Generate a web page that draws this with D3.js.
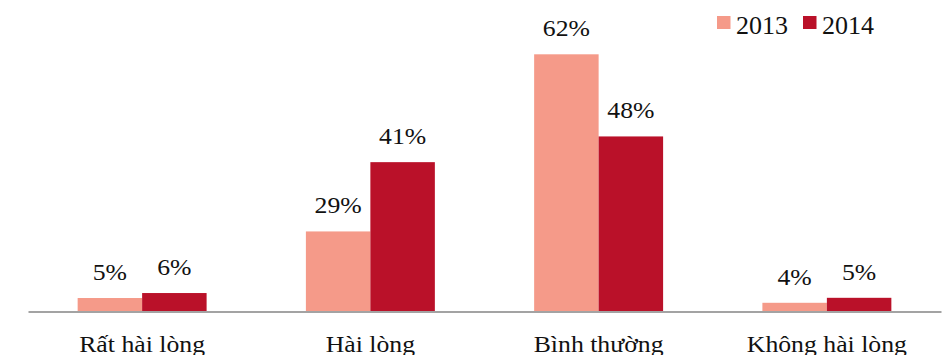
<!DOCTYPE html>
<html>
<head>
<meta charset="utf-8">
<script src="https://cdn.jsdelivr.net/npm/d3@7"></script>
<style>
  html, body { margin: 0; padding: 0; background: #fff; }
  svg { display: block; }
  text { font-family: "Liberation Serif", "Times New Roman", serif; fill: #111; }
</style>
</head>
<body>
<svg id="chart" width="950" height="355"></svg>
<script>
// Categories and series
const categories = ["Rất hài lòng", "Hài lòng", "Bình thường", "Không hài lòng"];
const seriesNames = ["2013", "2014"];
// Bar heights as drawn in the picture (percent units)
const values2013 = [3.25, 19.3, 62, 2.1];
const values2014 = [4.45, 36.0, 42.2, 3.3];
// Data labels as printed
const labels2013 = ["5%", "29%", "62%", "4%"];
const labels2014 = ["6%", "41%", "48%", "5%"];
const colors = ["#F59A89", "#BA1129"];

const svg = d3.select("#chart");
const baseY = 311.5, topY = 54.3;

const x0 = d3.scaleBand().domain(categories).range([28, 941]).paddingInner(0.435).paddingOuter(0.2175);
const x1 = d3.scaleBand().domain(seriesNames).range([0, x0.bandwidth()]);
const y = d3.scaleLinear().domain([0, 62]).range([baseY, topY]);
const color = d3.scaleOrdinal().domain(seriesNames).range(colors);

const rows = categories.map((c, i) => ({
  cat: c,
  items: [
    { s: "2013", v: values2013[i], l: labels2013[i] },
    { s: "2014", v: values2014[i], l: labels2014[i] }
  ]
}));

const g = svg.selectAll("g.grp").data(rows).join("g")
  .attr("class", "grp")
  .attr("transform", d => `translate(${x0(d.cat)},0)`);

g.selectAll("rect").data(d => d.items).join("rect")
  .attr("x", d => x1(d.s))
  .attr("width", x1.bandwidth())
  .attr("y", d => y(d.v))
  .attr("height", d => baseY - y(d.v))
  .attr("fill", d => color(d.s));

g.selectAll("text.lbl").data(d => d.items).join("text")
  .attr("class", "lbl")
  .attr("text-anchor", "middle")
  .attr("font-size", 23)
  .attr("transform", d => `translate(${x1(d.s) + x1.bandwidth() / 2},${y(d.v) - 18}) scale(1.12,1)`)
  .text(d => d.l);

// Axis line
const xAxis = d3.axisBottom(x0).tickSize(0).tickSizeOuter(0).tickPadding(0);
const ax = svg.append("g").attr("transform", `translate(0,${baseY})`).call(xAxis);
ax.select(".domain").attr("stroke", "#A3A3A3").attr("stroke-width", 2);
ax.selectAll(".tick text").remove();

// Category labels
svg.selectAll("text.cat").data(categories).join("text")
  .attr("class", "cat")
  .attr("text-anchor", "middle")
  .attr("font-size", 23)
  .attr("transform", d => `translate(${x0(d) + x0.bandwidth() / 2},352) scale(1.12,1)`)
  .text(d => d);

// Legend
const legendX = [717, 803];
const lg = svg.selectAll("g.leg").data(seriesNames).join("g")
  .attr("class", "leg")
  .attr("transform", (d, i) => `translate(${legendX[i]},0)`);
lg.append("rect").attr("x", 0).attr("y", 16).attr("width", 13.5).attr("height", 13).attr("fill", d => color(d));
lg.append("text").attr("x", 19).attr("y", 34).attr("font-size", 26).text(d => d);
</script>
</body>
</html>
